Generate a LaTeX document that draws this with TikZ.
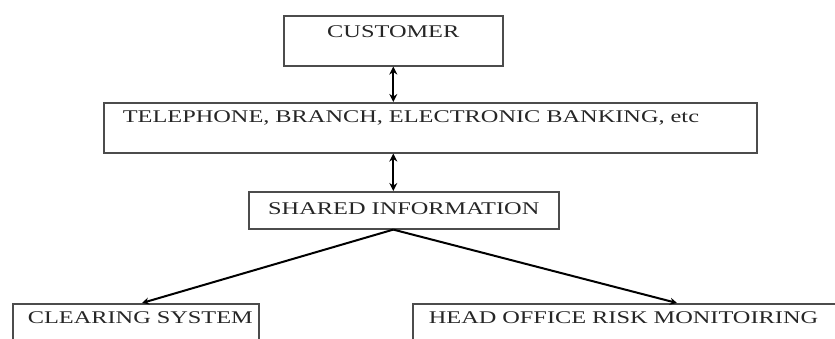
\documentclass[tikz,border=0pt]{standalone}
\usepackage{fontspec}
\setmainfont{Liberation Serif}[FakeStretch=1.36]
\usepackage{tikz}
\usetikzlibrary{arrows.meta,calc}

\tikzset{
  box/.style={draw=black!70, line width=1.6pt, anchor=north west, inner ysep=0pt,
    text=black!85, font=\fontsize{17.9}{20}\selectfont},
  leftbox/.style={box, align=left},
  link/.style={line width=2pt, {Stealth[length=8pt,width=8pt]}-{Stealth[length=8pt,width=8pt]}},
  branch/.style={line width=2pt, -{Stealth[length=7pt,width=7pt]}},
}

\begin{document}
\begin{tikzpicture}[x=1pt,y=-1pt]
\useasboundingbox (0,0) rectangle (835,338);
\clip (0,0) rectangle (835,338);

\node[box, minimum width=219pt, text height=22pt, text depth=28pt] (cust) at (283,15) {CUSTOMER};
\node[leftbox, inner xsep=19pt, text width=615pt, text height=20pt, text depth=30pt] (chan) at (103,102) {TELEPHONE, BRANCH, ELECTRONIC BANKING, etc};
\node[box, minimum width=310pt, text height=23pt, text depth=14pt] (info) at (248,191) {SHARED INFORMATION};
\node[leftbox, inner xsep=15pt, text width=216pt, text height=20pt, text depth=25pt] (clear) at (12,303) {\mbox{CLEARING SYSTEM}};
\node[leftbox, inner xsep=16pt, text width=400pt, text height=20pt, text depth=25pt] (risk) at (412,303) {HEAD OFFICE RISK MONITOIRING};

\draw[link] (cust.south) -- (cust.south |- chan.north);
\draw[link] (cust.south |- chan.south) -- (cust.south |- info.north);
\draw[branch] (cust.south |- info.south) -- ($(clear.north west)+(130,0)$);
\draw[branch] (cust.south |- info.south) -- ($(risk.north west)+(265,0)$);
\end{tikzpicture}
\end{document}
